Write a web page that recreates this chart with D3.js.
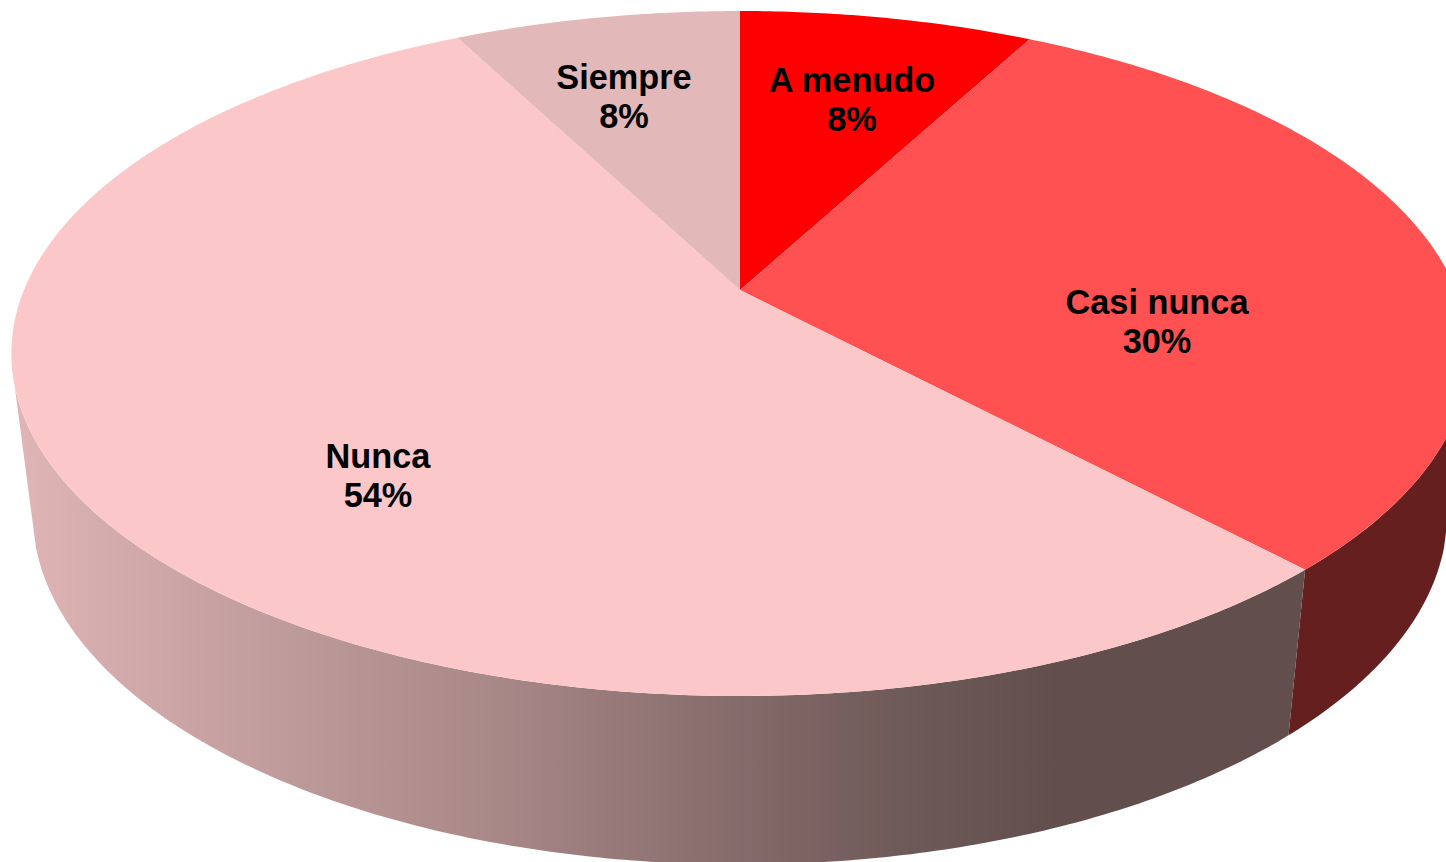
<html>
<title>Pie 3D</title>
<style>
body { margin: 0; background-color: #ffffff; }
svg { display: block; }
</style>
<body>
<svg width="1446" height="862" font-family="'Liberation Sans', Arial, sans-serif"></svg>
<script src="https://d3js.org/d3.v7.min.js"></script>
<script>

// values, the printed labels are rounded
var categories = ["A menudo", "Casi nunca", "Nunca", "Siempre"];
var values = [7.8, 30.25, 54.35, 7.6];
var percentLabels = ["8%", "30%", "54%", "8%"];

var topColors = ["#ff0000", "#ff5151", "#fcc7c8", "#e3b8b8"];
var wallColors = ["#7a0000", "#651f1f", "url(#wallGradient)", "#a07f7f"];
var labelAnchors = [[852, 92], [1157, 314], [378, 468], [624, 89]];

var svg = d3.select("svg");

// the disc is a circle seen in perspective, k is the same for both faces
var k = -0.1854;
var topFace = {cx: 740, cy: 290, a: 716, b: 330.7};
var bottomFace = {cx: 740, cy: 449, a: 695, b: 338.5};

function project(face, angle) {
  var u = Math.sin(angle), v = -Math.cos(angle), w = 1 + k * v;
  return [face.cx + face.a * u / w, face.cy + face.b * v / w];
}

function arcPoints(face, a0, a1) {
  var n = Math.max(2, Math.ceil((a1 - a0) / 0.01));
  return d3.range(n + 1).map(function(i) {
    return project(face, a0 + (a1 - a0) * i / n);
  });
}

var line = d3.line();

var arcs = d3.pie().sort(null).value(function(d) { return d; })(values);

// side wall only shows between the two silhouette lines
var wallFrom = 106 * Math.PI / 180,
    wallTo = 254 * Math.PI / 180;

var stops = [[15, "#e0b5b6"], [100, "#d5acad"], [300, "#bd9a9a"], [500, "#a88787"],
             [700, "#8b6f6f"], [900, "#6e5a58"], [1060, "#624f4d"], [1300, "#614e4d"]];

var gradient = svg.append("defs").append("linearGradient")
    .attr("id", "wallGradient")
    .attr("gradientUnits", "userSpaceOnUse")
    .attr("x1", 15).attr("x2", 1300).attr("y1", 0).attr("y2", 0);

gradient.selectAll("stop")
  .data(stops)
  .enter().append("stop")
    .attr("offset", function(d) { return (d[0] - 15) / (1300 - 15); })
    .attr("stop-color", function(d) { return d[1]; });

var walls = arcs.filter(function(d) {
  return d.endAngle > wallFrom && d.startAngle < wallTo;
});

svg.selectAll(".wall")
  .data(walls)
  .enter().append("path")
    .attr("class", "wall")
    .attr("fill", function(d) { return wallColors[d.index]; })
    .attr("d", function(d) {
      var a0 = Math.max(d.startAngle, wallFrom),
          a1 = Math.min(d.endAngle, wallTo);
      var pts = arcPoints(topFace, a0, a1).concat(arcPoints(bottomFace, a0, a1).reverse());
      return line(pts) + "Z";
    });

svg.selectAll(".slice")
  .data(arcs)
  .enter().append("path")
    .attr("class", "slice")
    .attr("fill", function(d, i) { return topColors[i]; })
    .attr("d", function(d) {
      return line([[topFace.cx, topFace.cy]].concat(arcPoints(topFace, d.startAngle, d.endAngle))) + "Z";
    });

var label = svg.selectAll(".label")
  .data(categories)
  .enter().append("text")
    .attr("class", "label")
    .attr("text-anchor", "middle")
    .attr("font-size", 34.3)
    .attr("font-weight", "bold")
    .attr("fill", "#000000");

label.append("tspan")
    .attr("x", function(d, i) { return labelAnchors[i][0]; })
    .attr("y", function(d, i) { return labelAnchors[i][1]; })
    .text(function(d) { return d; });

label.append("tspan")
    .attr("x", function(d, i) { return labelAnchors[i][0]; })
    .attr("y", function(d, i) { return labelAnchors[i][1] + 39; })
    .text(function(d, i) { return percentLabels[i]; });

</script>
</body>
</html>
